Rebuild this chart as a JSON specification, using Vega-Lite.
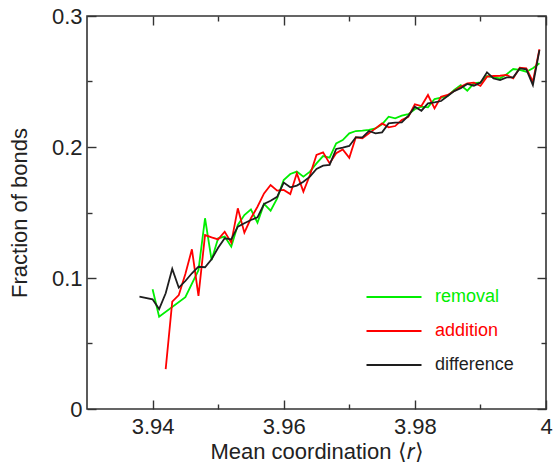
{
  "$schema": "https://vega.github.io/schema/vega-lite/v6.json",
  "width": 459,
  "height": 393,
  "autosize": {"type": "none"},
  "padding": {"left": 87, "top": 16, "right": 7, "bottom": 57},
  "background": "white",
  "config": {
    "font": "Liberation Sans",
    "view": {"stroke": "#333333", "strokeWidth": 1.6},
    "axis": {
      "domain": false,
      "grid": false,
      "tickColor": "#333333",
      "tickWidth": 1.4,
      "labelFont": "Liberation Sans",
      "labelFontSize": 22,
      "labelColor": "#222222",
      "titleFont": "Liberation Sans",
      "titleFontSize": 22,
      "titleFontWeight": "normal",
      "titleColor": "#222222"
    }
  },
  "data": {
    "values": [
      {"coord": 3.940, "frac": 0.0914, "series": "removal"},
      {"coord": 3.941, "frac": 0.0705, "series": "removal"},
      {"coord": 3.945, "frac": 0.0853, "series": "removal"},
      {"coord": 3.947, "frac": 0.1060, "series": "removal"},
      {"coord": 3.948, "frac": 0.1456, "series": "removal"},
      {"coord": 3.949, "frac": 0.1137, "series": "removal"},
      {"coord": 3.950, "frac": 0.1303, "series": "removal"},
      {"coord": 3.951, "frac": 0.1316, "series": "removal"},
      {"coord": 3.952, "frac": 0.1239, "series": "removal"},
      {"coord": 3.953, "frac": 0.1405, "series": "removal"},
      {"coord": 3.954, "frac": 0.1480, "series": "removal"},
      {"coord": 3.955, "frac": 0.1524, "series": "removal"},
      {"coord": 3.956, "frac": 0.1422, "series": "removal"},
      {"coord": 3.957, "frac": 0.1565, "series": "removal"},
      {"coord": 3.958, "frac": 0.1514, "series": "removal"},
      {"coord": 3.959, "frac": 0.1608, "series": "removal"},
      {"coord": 3.960, "frac": 0.1748, "series": "removal"},
      {"coord": 3.961, "frac": 0.1794, "series": "removal"},
      {"coord": 3.962, "frac": 0.1812, "series": "removal"},
      {"coord": 3.963, "frac": 0.1774, "series": "removal"},
      {"coord": 3.964, "frac": 0.1812, "series": "removal"},
      {"coord": 3.965, "frac": 0.1875, "series": "removal"},
      {"coord": 3.966, "frac": 0.1931, "series": "removal"},
      {"coord": 3.967, "frac": 0.1918, "series": "removal"},
      {"coord": 3.968, "frac": 0.2028, "series": "removal"},
      {"coord": 3.969, "frac": 0.2053, "series": "removal"},
      {"coord": 3.970, "frac": 0.2104, "series": "removal"},
      {"coord": 3.971, "frac": 0.2122, "series": "removal"},
      {"coord": 3.972, "frac": 0.2125, "series": "removal"},
      {"coord": 3.973, "frac": 0.2130, "series": "removal"},
      {"coord": 3.974, "frac": 0.2142, "series": "removal"},
      {"coord": 3.975, "frac": 0.2173, "series": "removal"},
      {"coord": 3.976, "frac": 0.2231, "series": "removal"},
      {"coord": 3.977, "frac": 0.2219, "series": "removal"},
      {"coord": 3.978, "frac": 0.2239, "series": "removal"},
      {"coord": 3.979, "frac": 0.2250, "series": "removal"},
      {"coord": 3.980, "frac": 0.2288, "series": "removal"},
      {"coord": 3.981, "frac": 0.2308, "series": "removal"},
      {"coord": 3.982, "frac": 0.2303, "series": "removal"},
      {"coord": 3.983, "frac": 0.2366, "series": "removal"},
      {"coord": 3.984, "frac": 0.2377, "series": "removal"},
      {"coord": 3.985, "frac": 0.2389, "series": "removal"},
      {"coord": 3.986, "frac": 0.2435, "series": "removal"},
      {"coord": 3.987, "frac": 0.2473, "series": "removal"},
      {"coord": 3.988, "frac": 0.2430, "series": "removal"},
      {"coord": 3.989, "frac": 0.2486, "series": "removal"},
      {"coord": 3.990, "frac": 0.2494, "series": "removal"},
      {"coord": 3.991, "frac": 0.2542, "series": "removal"},
      {"coord": 3.992, "frac": 0.2532, "series": "removal"},
      {"coord": 3.993, "frac": 0.2524, "series": "removal"},
      {"coord": 3.994, "frac": 0.2555, "series": "removal"},
      {"coord": 3.995, "frac": 0.2595, "series": "removal"},
      {"coord": 3.996, "frac": 0.2588, "series": "removal"},
      {"coord": 3.997, "frac": 0.2575, "series": "removal"},
      {"coord": 3.998, "frac": 0.2601, "series": "removal"},
      {"coord": 3.999, "frac": 0.2639, "series": "removal"},

      {"coord": 3.942, "frac": 0.0305, "series": "addition"},
      {"coord": 3.943, "frac": 0.0819, "series": "addition"},
      {"coord": 3.944, "frac": 0.0870, "series": "addition"},
      {"coord": 3.945, "frac": 0.1030, "series": "addition"},
      {"coord": 3.946, "frac": 0.1219, "series": "addition"},
      {"coord": 3.947, "frac": 0.0863, "series": "addition"},
      {"coord": 3.948, "frac": 0.1328, "series": "addition"},
      {"coord": 3.949, "frac": 0.1310, "series": "addition"},
      {"coord": 3.950, "frac": 0.1295, "series": "addition"},
      {"coord": 3.951, "frac": 0.1353, "series": "addition"},
      {"coord": 3.952, "frac": 0.1270, "series": "addition"},
      {"coord": 3.953, "frac": 0.1532, "series": "addition"},
      {"coord": 3.954, "frac": 0.1346, "series": "addition"},
      {"coord": 3.955, "frac": 0.1456, "series": "addition"},
      {"coord": 3.956, "frac": 0.1544, "series": "addition"},
      {"coord": 3.957, "frac": 0.1646, "series": "addition"},
      {"coord": 3.958, "frac": 0.1710, "series": "addition"},
      {"coord": 3.959, "frac": 0.1667, "series": "addition"},
      {"coord": 3.960, "frac": 0.1672, "series": "addition"},
      {"coord": 3.961, "frac": 0.1641, "series": "addition"},
      {"coord": 3.962, "frac": 0.1799, "series": "addition"},
      {"coord": 3.963, "frac": 0.1659, "series": "addition"},
      {"coord": 3.964, "frac": 0.1786, "series": "addition"},
      {"coord": 3.965, "frac": 0.1939, "series": "addition"},
      {"coord": 3.966, "frac": 0.1959, "series": "addition"},
      {"coord": 3.967, "frac": 0.1875, "series": "addition"},
      {"coord": 3.968, "frac": 0.1952, "series": "addition"},
      {"coord": 3.969, "frac": 0.1982, "series": "addition"},
      {"coord": 3.970, "frac": 0.1918, "series": "addition"},
      {"coord": 3.971, "frac": 0.2074, "series": "addition"},
      {"coord": 3.972, "frac": 0.2066, "series": "addition"},
      {"coord": 3.973, "frac": 0.2104, "series": "addition"},
      {"coord": 3.974, "frac": 0.2142, "series": "addition"},
      {"coord": 3.975, "frac": 0.2180, "series": "addition"},
      {"coord": 3.976, "frac": 0.2150, "series": "addition"},
      {"coord": 3.977, "frac": 0.2160, "series": "addition"},
      {"coord": 3.978, "frac": 0.2206, "series": "addition"},
      {"coord": 3.979, "frac": 0.2231, "series": "addition"},
      {"coord": 3.980, "frac": 0.2326, "series": "addition"},
      {"coord": 3.981, "frac": 0.2313, "series": "addition"},
      {"coord": 3.982, "frac": 0.2397, "series": "addition"},
      {"coord": 3.983, "frac": 0.2295, "series": "addition"},
      {"coord": 3.984, "frac": 0.2384, "series": "addition"},
      {"coord": 3.985, "frac": 0.2397, "series": "addition"},
      {"coord": 3.986, "frac": 0.2427, "series": "addition"},
      {"coord": 3.987, "frac": 0.2460, "series": "addition"},
      {"coord": 3.988, "frac": 0.2486, "series": "addition"},
      {"coord": 3.989, "frac": 0.2491, "series": "addition"},
      {"coord": 3.990, "frac": 0.2466, "series": "addition"},
      {"coord": 3.991, "frac": 0.2537, "series": "addition"},
      {"coord": 3.992, "frac": 0.2542, "series": "addition"},
      {"coord": 3.993, "frac": 0.2544, "series": "addition"},
      {"coord": 3.994, "frac": 0.2550, "series": "addition"},
      {"coord": 3.995, "frac": 0.2524, "series": "addition"},
      {"coord": 3.996, "frac": 0.2605, "series": "addition"},
      {"coord": 3.997, "frac": 0.2601, "series": "addition"},
      {"coord": 3.998, "frac": 0.2499, "series": "addition"},
      {"coord": 3.999, "frac": 0.2746, "series": "addition"},

      {"coord": 3.938, "frac": 0.0857, "series": "difference"},
      {"coord": 3.940, "frac": 0.0837, "series": "difference"},
      {"coord": 3.941, "frac": 0.0763, "series": "difference"},
      {"coord": 3.942, "frac": 0.0883, "series": "difference"},
      {"coord": 3.943, "frac": 0.1070, "series": "difference"},
      {"coord": 3.944, "frac": 0.0926, "series": "difference"},
      {"coord": 3.945, "frac": 0.0977, "series": "difference"},
      {"coord": 3.946, "frac": 0.1036, "series": "difference"},
      {"coord": 3.947, "frac": 0.1086, "series": "difference"},
      {"coord": 3.948, "frac": 0.1082, "series": "difference"},
      {"coord": 3.949, "frac": 0.1143, "series": "difference"},
      {"coord": 3.950, "frac": 0.1231, "series": "difference"},
      {"coord": 3.951, "frac": 0.1303, "series": "difference"},
      {"coord": 3.952, "frac": 0.1295, "series": "difference"},
      {"coord": 3.953, "frac": 0.1392, "series": "difference"},
      {"coord": 3.954, "frac": 0.1418, "series": "difference"},
      {"coord": 3.955, "frac": 0.1443, "series": "difference"},
      {"coord": 3.956, "frac": 0.1463, "series": "difference"},
      {"coord": 3.957, "frac": 0.1565, "series": "difference"},
      {"coord": 3.958, "frac": 0.1590, "series": "difference"},
      {"coord": 3.959, "frac": 0.1620, "series": "difference"},
      {"coord": 3.960, "frac": 0.1728, "series": "difference"},
      {"coord": 3.961, "frac": 0.1692, "series": "difference"},
      {"coord": 3.962, "frac": 0.1705, "series": "difference"},
      {"coord": 3.963, "frac": 0.1735, "series": "difference"},
      {"coord": 3.964, "frac": 0.1774, "series": "difference"},
      {"coord": 3.965, "frac": 0.1832, "series": "difference"},
      {"coord": 3.966, "frac": 0.1858, "series": "difference"},
      {"coord": 3.967, "frac": 0.1863, "series": "difference"},
      {"coord": 3.968, "frac": 0.1985, "series": "difference"},
      {"coord": 3.969, "frac": 0.1995, "series": "difference"},
      {"coord": 3.970, "frac": 0.2008, "series": "difference"},
      {"coord": 3.971, "frac": 0.2074, "series": "difference"},
      {"coord": 3.972, "frac": 0.2074, "series": "difference"},
      {"coord": 3.973, "frac": 0.2122, "series": "difference"},
      {"coord": 3.974, "frac": 0.2104, "series": "difference"},
      {"coord": 3.975, "frac": 0.2112, "series": "difference"},
      {"coord": 3.976, "frac": 0.2180, "series": "difference"},
      {"coord": 3.977, "frac": 0.2186, "series": "difference"},
      {"coord": 3.978, "frac": 0.2188, "series": "difference"},
      {"coord": 3.979, "frac": 0.2237, "series": "difference"},
      {"coord": 3.980, "frac": 0.2308, "series": "difference"},
      {"coord": 3.981, "frac": 0.2277, "series": "difference"},
      {"coord": 3.982, "frac": 0.2333, "series": "difference"},
      {"coord": 3.983, "frac": 0.2340, "series": "difference"},
      {"coord": 3.984, "frac": 0.2351, "series": "difference"},
      {"coord": 3.985, "frac": 0.2389, "series": "difference"},
      {"coord": 3.986, "frac": 0.2427, "series": "difference"},
      {"coord": 3.987, "frac": 0.2448, "series": "difference"},
      {"coord": 3.988, "frac": 0.2481, "series": "difference"},
      {"coord": 3.989, "frac": 0.2468, "series": "difference"},
      {"coord": 3.990, "frac": 0.2491, "series": "difference"},
      {"coord": 3.991, "frac": 0.2570, "series": "difference"},
      {"coord": 3.992, "frac": 0.2524, "series": "difference"},
      {"coord": 3.993, "frac": 0.2511, "series": "difference"},
      {"coord": 3.994, "frac": 0.2532, "series": "difference"},
      {"coord": 3.995, "frac": 0.2532, "series": "difference"},
      {"coord": 3.996, "frac": 0.2600, "series": "difference"},
      {"coord": 3.997, "frac": 0.2593, "series": "difference"},
      {"coord": 3.998, "frac": 0.2473, "series": "difference"},
      {"coord": 3.999, "frac": 0.2740, "series": "difference"}
    ]
  },
  "layer": [
    {
      "mark": {"type": "line", "strokeWidth": 1.8, "clip": true},
      "encoding": {
        "x": {
          "field": "coord",
          "type": "quantitative",
          "scale": {"domain": [3.93, 4.0], "nice": false, "zero": false},
          "axis": {
            "orient": "bottom",
            "values": [3.94, 3.95, 3.96, 3.97, 3.98, 3.99, 4.0],
            "format": "~g",
            "labelExpr": "round(datum.value*100) % 2 == 1 ? '' : datum.label",
            "tickSize": {"condition": {"test": "round(datum.value*100) % 2 == 1", "value": -5}, "value": -9},
            "labelPadding": 16,
            "labelFlush": false,
            "title": "Mean coordination ⟨𝑟⟩",
            "titlePadding": 4
          }
        },
        "y": {
          "field": "frac",
          "type": "quantitative",
          "scale": {"domain": [0, 0.3], "nice": false},
          "axis": {
            "orient": "left",
            "values": [0, 0.05, 0.1, 0.15, 0.2, 0.25, 0.3],
            "format": "~g",
            "labelExpr": "round(datum.value*20) % 2 == 1 ? '' : datum.label",
            "tickSize": {"condition": {"test": "round(datum.value*20) % 2 == 1", "value": -5}, "value": -9},
            "labelPadding": 14,
            "labelFlush": false,
            "title": "Fraction of bonds",
            "titlePadding": 20
          }
        },
        "color": {
          "field": "series",
          "type": "nominal",
          "scale": {"domain": ["removal", "addition", "difference"], "range": ["#00ee00", "#ff0000", "#1e1e1e"]},
          "legend": {
            "title": null,
            "orient": "none",
            "legendX": 298,
            "legendY": 272,
            "padding": 0,
            "symbolType": "M-5,0H5",
            "symbolSize": 121,
            "symbolStrokeWidth": 1.8,
            "symbolFillColor": "transparent",
            "labelFont": "Liberation Sans",
            "labelFontSize": 18,
            "labelOffset": 32,
            "rowPadding": 16,
            "labelColor": {"expr": "datum.value == 'removal' ? '#00ee00' : datum.value == 'addition' ? '#ff0000' : '#1e1e1e'"}
          }
        }
      }
    },
    {
      "mark": {"type": "line", "opacity": 0},
      "encoding": {
        "x": {
          "field": "coord",
          "type": "quantitative",
          "axis": {
            "orient": "top",
            "values": [3.94, 3.95, 3.96, 3.97, 3.98, 3.99, 4.0],
            "labels": false,
            "tickSize": {"condition": {"test": "round(datum.value*100) % 2 == 1", "value": -5}, "value": -9},
            "title": null
          }
        },
        "y": {
          "field": "frac",
          "type": "quantitative",
          "axis": {
            "orient": "right",
            "values": [0, 0.05, 0.1, 0.15, 0.2, 0.25, 0.3],
            "labels": false,
            "tickSize": {"condition": {"test": "round(datum.value*20) % 2 == 1", "value": -5}, "value": -9},
            "title": null
          }
        }
      }
    }
  ],
  "resolve": {"axis": {"x": "independent", "y": "independent"}}
}
